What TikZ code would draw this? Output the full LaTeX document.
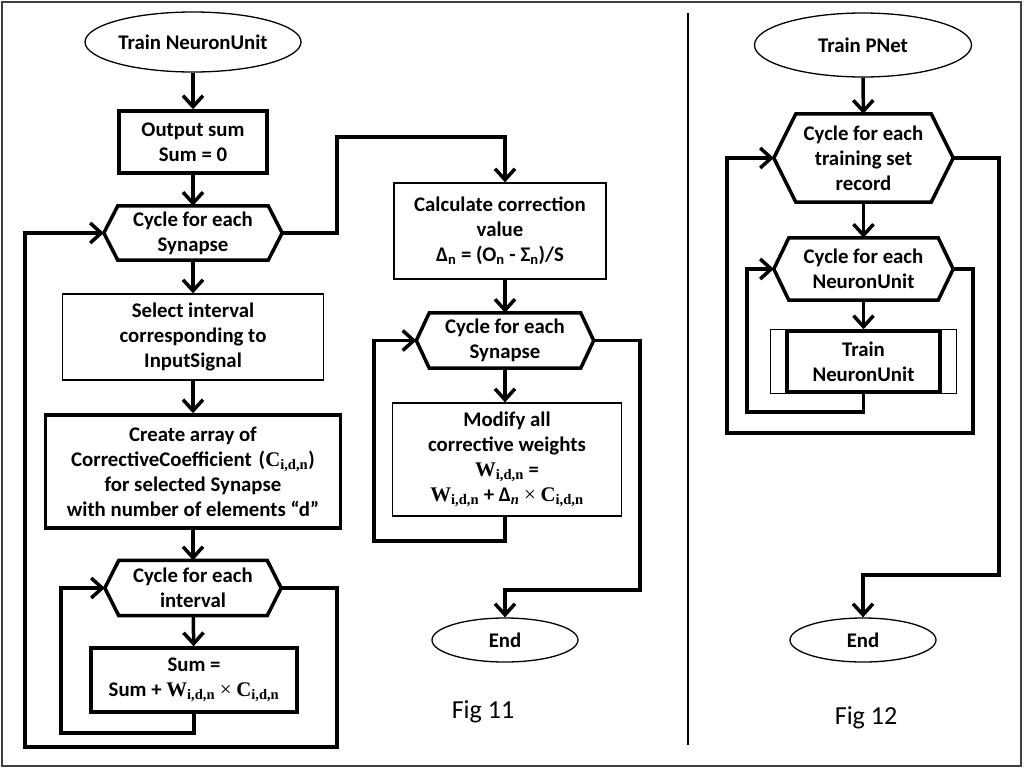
\documentclass[tikz,border=0pt]{standalone}
\usepackage{fontspec}
\setmainfont{Carlito}
\newfontfamily\sr{Liberation Serif}
\usetikzlibrary{arrows.meta,shapes.geometric,calc}
\newcommand\sv[2]{{\sr\bfseries #1}\textsubscript{\sr\bfseries #2}}
\newcommand\hexo[2]{\draw[line width=3.5pt,line join=miter] (#1.west) -- ($(#1.north west)+(#2,0)$) -- ($(#1.north east)-(#2,0)$) -- (#1.east) -- ($(#1.south east)-(#2,0)$) -- ($(#1.south west)+(#2,0)$) -- cycle;}
\tikzset{
 every node/.style={font=\fontsize{20.8}{25}\selectfont\bfseries, align=center, inner sep=0pt},
 thickbox/.style={draw, line width=3.5pt},
 thinbox/.style={draw, line width=1.3pt},
 term/.style={ellipse, draw, line width=1.3pt},
 hexa/.style={},
 flow/.style={line width=3.5pt, -{Straight Barb[length=11pt,width=20pt,line width=3.5pt]}},
 figlbl/.style={font=\fontsize{26}{30}\selectfont\mdseries},
}
\begin{document}
\begin{tikzpicture}[x=1pt,y=-1pt]
\useasboundingbox (0,0) rectangle (1024,769);
\draw[line width=1.5pt,black!75] (2,2) rectangle (1021,766);
\draw[line width=2.5pt] (688,13) -- (688,745);
% ---------- Fig 11 left column
\node[term, minimum width=216, minimum height=60] (s1) at (193,42) {Train NeuronUnit};
\node[thickbox, minimum width=148, minimum height=62] (b1) at (193,142) {Output sum\\Sum = 0};
\node[hexa, minimum width=178, minimum height=54] (h1) at (193,233) {Cycle for each\\Synapse};
\hexo{h1}{14}
\node[thinbox, minimum width=261, minimum height=86] (b2) at (193,337) {Select interval\\corresponding to\\InputSignal};
\node[thickbox, minimum width=295, minimum height=113] (b3) at (193,471.5) {Create array of\\CorrectiveCoefficient\,\,(\sv{C}{i,d,n})\\for selected Synapse\\with number of elements “d”};
\node[hexa, minimum width=176, minimum height=55] (h2) at (193,588) {Cycle for each\\interval};
\hexo{h2}{14}
\node[thickbox, minimum width=206, minimum height=64] (b4) at (194,680) {Sum =\\Sum + \sv{W}{i,d,n} {\sr\mdseries×} \sv{C}{i,d,n}};
% ---------- Fig 11 right column
\node[thinbox, minimum width=212, minimum height=96] (b5) at (500,231) {Calculate correction\\value\\Δ\textsubscript{n} = (O\textsubscript{n} - Σ\textsubscript{n})/S};
\node[hexa, minimum width=177, minimum height=55] (h3) at (505,340.5) {Cycle for each\\Synapse};
\hexo{h3}{13}
\node[thinbox, minimum width=229, minimum height=113] (b6) at (507,459.5) {Modify all\\corrective weights\\\sv{W}{i,d,n} =\\\sv{W}{i,d,n} + Δ\textsubscript{\sr\bfseries\itshape n} {\sr\mdseries×} \sv{C}{i,d,n}};
\node[term, minimum width=146, minimum height=44] (e1) at (505,640) {End};
\node[figlbl] (f11) at (483,712) {Fig 11};
% ---------- Fig 12
\node[term, minimum width=217, minimum height=64] (s2) at (863,45) {Train PNet};
\node[hexa, minimum width=179, minimum height=88] (h4) at (863.5,158) {Cycle for each\\training set\\record};
\hexo{h4}{22}
\node[hexa, minimum width=179, minimum height=62] (h5) at (863.5,269) {Cycle for each\\NeuronUnit};
\hexo{h5}{15}
\node[thickbox, minimum width=153, minimum height=61] (p1) at (863.5,361.5) {Train\\NeuronUnit};
\draw[line width=1pt] ($(p1.north west)+(-15,0)$) rectangle ($(p1.south east)+(15,0)$);
\node[term, minimum width=146, minimum height=44] (e2) at (863,640) {End};
\node[figlbl] (f12) at (866,718) {Fig 12};
% ---------- coordinates
\coordinate (c1) at (61,733);
\coordinate (c2) at (337,747);
\coordinate (c3) at (25,747);
\coordinate (c4) at (337,137);
\coordinate (c5) at (374,541);
\coordinate (c6) at (640,590);
\coordinate (c7) at (747,412);
\coordinate (c8) at (973,433);
\coordinate (c9) at (727,433);
\coordinate (c10) at (999,575);
% ---------- connectors Fig 11
\draw[flow] (s1) -- (b1);
\draw[flow] (b1) -- (h1);
\draw[flow] (h1) -- (b2);
\draw[flow] (b2) -- (b3);
\draw[flow] (b3) -- (h2);
\draw[flow] (h2) -- (b4);
\draw[flow] (b4.south) |- (c1) |- (h2.west);
\draw[flow] (h2.east) -| (c2) -- (c3) |- (h1.west);
\draw[flow] (h1.east) -| (c4) -| (h3.north |- b5.north);
\draw[flow] (h3.north |- b5.south) -- (h3.north);
\draw[flow] (h3.south) -- (h3.south |- b6.north);
\draw[flow] (h3.south |- b6.south) |- (c5) |- (h3.west);
\draw[flow] (h3.east) -| (c6) -| (e1.north);
% ---------- connectors Fig 12
\draw[flow] (s2) -- (h4);
\draw[flow] (h4) -- (h5);
\draw[flow] (h5) -- (p1);
\draw[flow] (p1.south) |- (c7) |- (h5.west);
\draw[flow] (h5.east) -| (c8) -- (c9) |- (h4.west);
\draw[flow] (h4.east) -| (c10) -| (e2.north);
\end{tikzpicture}
\end{document}
